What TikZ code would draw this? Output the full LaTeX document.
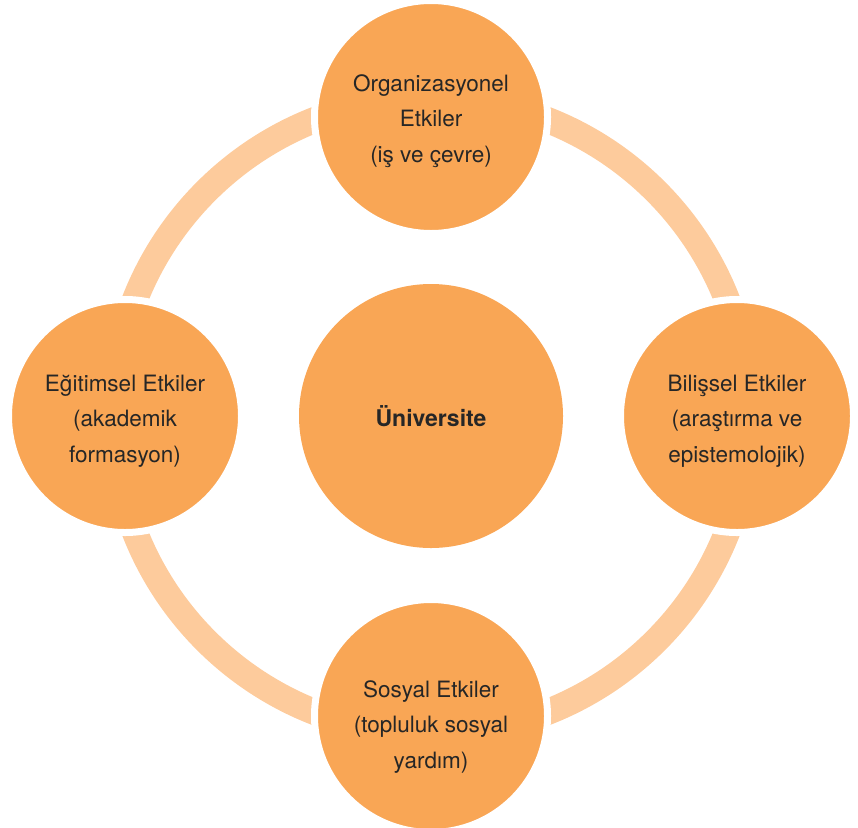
\documentclass[tikz,border=0pt]{standalone}
\usepackage{fontspec}
\setmainfont{TeX Gyre Heros}
\usepackage{tikz}

\definecolor{etkiorange}{HTML}{F9A655}
\definecolor{ringorange}{HTML}{FDCB9C}
\definecolor{etkitext}{HTML}{262626}

\begin{document}
\begin{tikzpicture}[x=1pt,y=-1pt,
	etki/.style={circle,fill=etkiorange,draw=white,line width=7pt,minimum size=233pt,inner sep=0pt},
	etkiyazi/.style={align=center,inner sep=0pt,text=etkitext,font=\fontsize{22.5}{35.5}\selectfont},
	merkez/.style={circle,fill=etkiorange,minimum size=264pt,inner sep=0pt,
		text=etkitext,font=\fontsize{23}{28}\selectfont\bfseries}]
	\useasboundingbox (0,0) rectangle (858,827);
	
	%ring behind the circles
	\draw[ringorange,line width=26pt] (431,416) circle (318);
	
	\node[merkez] (uni) at (431,416) {\"Universite};
	
	\node[etki] (org) at (431,117) {};
	\node[etki] (egi) at (125,416) {};
	\node[etki] (bil) at (737,416) {};
	\node[etki] (sos) at (431,716) {};
	
	%texts
	\node[etkiyazi] (orgyazi) at ([yshift=-4pt]org.center) {Organizasyonel\\Etkiler\\(iş ve çevre)};
	\node[etkiyazi] (egiyazi) at ([yshift=-5pt]egi.center) {Eğitimsel Etkiler\\(akademik\\formasyon)};
	\node[etkiyazi] (bilyazi) at ([yshift=-5pt]bil.center) {Bilişsel Etkiler\\(araştırma ve\\epistemolojik)};
	\node[etkiyazi] (sosyazi) at ([yshift=-11pt]sos.center) {Sosyal Etkiler\\(topluluk sosyal\\yardım)};
\end{tikzpicture}
\end{document}
